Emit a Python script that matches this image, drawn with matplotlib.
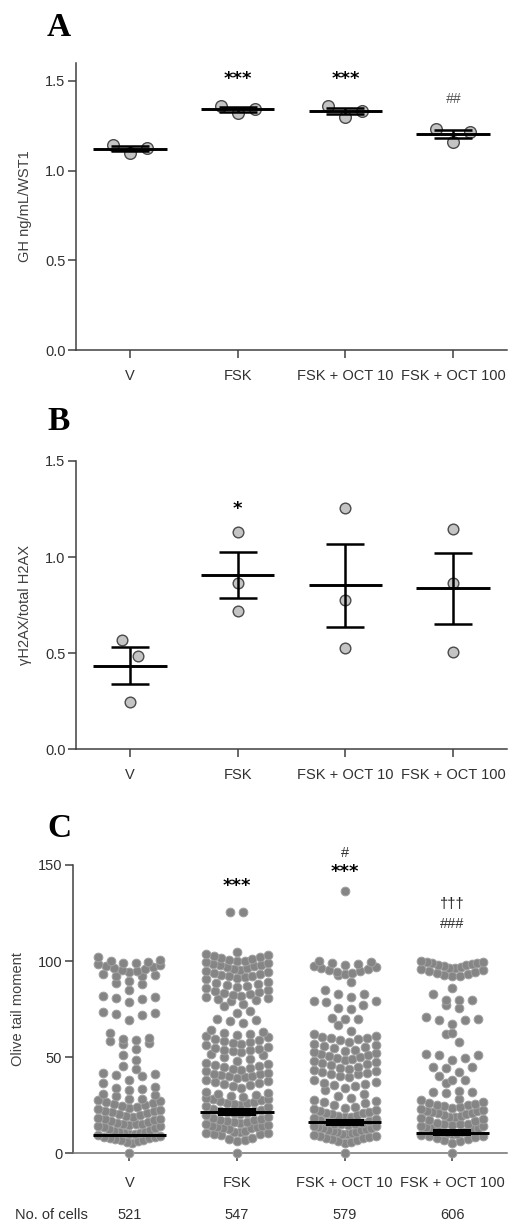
import numpy as np
import matplotlib
matplotlib.use("Agg")
import matplotlib.pyplot as plt

plt.rcParams['font.family'] = ['Liberation Sans', 'DejaVu Sans']

groups = ['V', 'FSK', 'FSK + OCT 10', 'FSK + OCT 100']

# A - GH secretion, one value per experiment
gh_v = [1.143, 1.097, 1.128]
gh_fsk = [1.361, 1.320, 1.342]
gh_oct10 = [1.361, 1.301, 1.333]
gh_oct100 = [1.231, 1.162, 1.218]
gh_marks = ['', '***', '***', '##']

# B - gammaH2AX / total H2AX
h2ax_v = [0.569, 0.487, 0.248]
h2ax_fsk = [1.129, 0.864, 0.721]
h2ax_oct10 = [1.254, 0.777, 0.526]
h2ax_oct100 = [1.146, 0.864, 0.505]
h2ax_marks = ['', '*', '', '']

# C - comet assay, olive tail moment per cell
tail_v = [0,
          5.5, 6, 6.5, 7, 7, 7.5, 8, 8, 8.5, 8.5, 9,
          9.5, 10, 10, 10.5, 10.5, 11, 11, 11.5, 12, 12.5, 13,
          13.5, 14, 14, 14.5, 15, 15, 15.5, 16, 16.5, 17,
          17.5, 18, 18, 18.5, 19, 19.5, 20, 20.5, 21,
          21.5, 22, 22, 22.5, 23, 23.5, 24, 24.5, 25,
          25.5, 26, 26.5, 27, 27.5, 28, 28.5,
          30, 30.5, 31, 33, 33.5, 34, 34.5,
          36.5, 38, 40, 40.5, 41.5, 42,
          44, 45.5, 48.5, 51, 54.5, 57, 57.5,
          58.5, 59, 59.5, 60, 62.5,
          69.5, 72, 72.5, 73, 73.5, 78.5, 80.5, 81, 81.5, 82,
          85, 88, 88.5, 89.5,
          92, 92.5, 93, 93.5, 94.5, 95, 95.5, 96,
          96.5, 97, 97.5, 98, 98.5, 99, 99, 99.5, 100, 100.5,
          102]
tail_fsk = [0,
            6.5, 7, 7.5, 8,
            9.5, 10, 10, 10.5, 10.5, 11, 11, 11.5,
            12.5, 13, 13, 13.5, 13.5, 14, 14, 14.5, 15,
            16, 16.5, 16.5, 17, 17.5, 17.5, 18, 18.5, 19,
            20, 20.5, 21, 21, 21.5, 22, 22, 22.5, 23,
            24, 24.5, 25, 25.5, 26, 26, 26.5, 27, 27.5,
            28, 28.5, 29, 29.5, 30, 30.5, 31, 31.5, 32,
            34, 35, 35.5, 36, 36.5, 37, 37.5, 38,
            39, 39.5, 40, 40, 40.5, 41, 41.5, 42,
            43, 43.5, 44, 44.5, 45, 45.5, 46, 46.5, 47,
            48, 49, 50, 51, 51.5,
            52.5, 53, 53.5, 54, 54.5, 55, 55.5,
            56.5, 57, 57.5, 58, 58.5, 59, 59.5,
            60.5, 61, 61.5, 62, 62.5, 63, 64,
            68, 69, 69.5, 70,
            73, 74, 76.5, 77.5,
            79.5, 80, 80.5, 81, 81.5, 82, 82.5,
            83, 83.5, 84, 84.5, 85, 86,
            86.5, 87, 87.5, 88, 88.5, 89,
            90.5, 91, 91.5, 92, 92.5, 93,
            93.5, 94, 94.5, 95, 95.5, 96, 96.5,
            97, 97.5, 98, 98, 98.5, 99, 99.5, 100,
            100, 100.5, 101, 101.5, 102, 102.5, 103, 103.5,
            104.5, 125.5, 125.5]
tail_oct10 = [0,
              5.5, 6, 6.5, 7, 7.5, 8, 8, 8.5, 9, 9, 9.5,
              10, 10, 10.5, 11, 11, 11.5, 12, 12, 12.5, 13, 13, 13.5,
              14, 14, 14.5, 15, 15, 15.5, 16, 16.5, 17, 17.5,
              18, 18.5, 19, 19, 19.5, 20, 20.5, 21, 21, 21.5,
              22, 22.5, 23, 23.5, 24, 25, 26, 26.5, 27, 27.5,
              29, 30, 31, 33, 34, 35, 35.5, 36, 36.5, 37, 38,
              39.5, 40, 41, 41.5, 42, 42.5, 43, 43.5, 44, 44.5, 45,
              46, 46.5, 47, 47.5, 48, 48.5, 49, 49.5,
              50, 50.5, 51, 51.5, 52, 52.5, 53, 54,
              55, 55.5, 56, 56.5, 57, 58, 59, 59.5,
              60, 60, 60.5, 61, 62, 63.5, 67,
              70, 70, 70.5, 75, 75.5, 77, 78.5, 79, 79, 81.5,
              83, 83, 85, 89,
              93, 93.5, 94, 94.5, 95, 95.5, 96, 96.5,
              97, 97.5, 98, 98.5, 99, 99.5, 100,
              136.5]
tail_oct100 = [0,
               5.5, 6.5, 7, 7.5, 8, 8.5, 9, 9,
               9.5, 10, 10, 10.5, 11, 11, 11.5, 12, 12.5,
               13, 13, 13.5, 14, 14, 14.5, 15, 15, 15.5, 16,
               17, 17.5, 18, 18.5, 19, 19, 19.5, 20, 20.5,
               21, 21, 21.5, 22, 22, 22.5, 23, 23.5, 24,
               24.5, 25, 25, 25.5, 26, 26.5, 27.5, 28,
               31.5, 32, 32, 32.5, 36.5, 38, 38, 40,
               42.5, 44.5, 45, 45, 48.5, 49.5, 51, 51, 51.5,
               58, 62, 62.5, 67.5, 69.5, 69.5, 70, 71,
               75.5, 77, 80, 80, 80, 83, 86,
               92, 92.5, 93, 93.5, 94, 94.5, 95, 95.5,
               96, 96.5, 96.5, 97, 97.5, 98, 98, 98.5,
               99, 99, 99.5, 99.5, 100]
tail_center = [9.3, 21.6, 16.4, 10.5]
tail_lo = [8.6, 19.5, 14.3, 9.1]
tail_hi = [10.0, 23.8, 17.7, 12.5]
tail_marks = [[], [(142, '***')], [(149, '***'), (157, '#')],
              [(120, '###'), (130, '\u2020\u2020\u2020')]]
n_cells = [521, 547, 579, 606]

AXIS_COLOR = '#404040'
TEXT_COLOR = '#303030'


def lane_offsets(vals, px_per_y, lane_px, bin_px, half_px):
    # rows of nearby values, lowest value in the middle, the rest outwards
    vals = np.asarray(vals, float)
    order = np.argsort(vals, kind='stable')
    offs = np.zeros(len(vals))
    bins, cur, start = [], [], 0.0
    for i in order:
        y = vals[i] * px_per_y
        if cur and y - start > bin_px:
            bins.append(cur)
            cur = []
        if not cur:
            start = y
        cur.append(i)
    if cur:
        bins.append(cur)
    for b in bins:
        n = len(b)
        if n % 2:
            k = (n - 1) // 2
            s = lane_px if k == 0 else min(lane_px, half_px / k)
            slots = [0.0]
            for j in range(1, k + 1):
                slots += [j * s, -j * s]
        else:
            k = n // 2
            s = min(lane_px, half_px / (k - 0.5))
            slots = []
            for j in range(1, k + 1):
                slots += [(j - 0.5) * s, -(j - 0.5) * s]
        for i, o in zip(b, slots):
            offs[i] = o
    return offs


def px_scale(ax):
    x0, x1 = ax.get_xlim()
    y0, y1 = ax.get_ylim()
    return ax.bbox.width / (x1 - x0), ax.bbox.height / (y1 - y0)


def style_axis(ax, xlim, ylim, yticks, labels_fmt, ylabel, label_x):
    ax.set_xlim(*xlim)
    ax.set_ylim(*ylim)
    for s in ('top', 'right'):
        ax.spines[s].set_visible(False)
    for s in ('left', 'bottom'):
        ax.spines[s].set_color(AXIS_COLOR)
        ax.spines[s].set_linewidth(1.1)
    ax.set_yticks(yticks)
    ax.set_yticklabels([labels_fmt.format(t) for t in yticks])
    ax.set_xticks(range(len(groups)))
    ax.set_xticklabels(groups)
    ax.tick_params(axis='both', direction='out', length=5.5, width=1.1,
                   color=AXIS_COLOR, labelsize=10.5, labelcolor=TEXT_COLOR)
    ax.tick_params(axis='x', pad=8)
    ax.tick_params(axis='y', pad=2)
    ax.set_ylabel(ylabel, fontsize=10.5, color='#404040')
    ax.yaxis.set_label_coords(label_x, 0.5)
    ax.patch.set_alpha(0)


def mark(ax, x, y, text, size, off, **kw):
    ax.annotate(text, xy=(x, y), xytext=(0, off), textcoords='offset points',
                ha='center', va='baseline', fontsize=size, annotation_clip=False, **kw)


def small_n_panel(ax, data, d_px, lane_px, bin_px):
    ppx, ppy = px_scale(ax)
    for i, vals in enumerate(data):
        offs = lane_offsets(vals, ppy, lane_px, bin_px, 40)
        ax.plot(i + offs / ppx, vals, 'o', ms=d_px * 0.72 - 0.6, mfc='#c4c4c4',
                mec='#4a4a4a', mew=1.0, zorder=3, clip_on=False)
        m = np.mean(vals)
        sem = np.std(vals, ddof=1) / np.sqrt(len(vals))
        ax.hlines(m, i - 0.34, i + 0.34, color='black', lw=2.1, zorder=4)
        ax.errorbar(i, m, yerr=sem, fmt='none', ecolor='black', elinewidth=1.8,
                    capsize=13.5, capthick=1.8, zorder=4)


fig = plt.figure(figsize=(5.2, 12.24), dpi=100)
W, H = 520.0, 1224.0

# panel A
axA = fig.add_axes([76 / W, 1 - 350 / H, 431 / W, 287 / H])
style_axis(axA, (-0.5, 3.5), (0, 1.6), [0.0, 0.5, 1.0, 1.5], '{:.1f}',
           'GH ng/mL/WST1', -0.102)
small_n_panel(axA, [gh_v, gh_fsk, gh_oct10, gh_oct100], 12.5, 17, 18)
for i, t in enumerate(gh_marks):
    if t == '***':
        mark(axA, i, 1.539, t, 13, -7.5, fontweight='bold', family='DejaVu Sans')
    elif t:
        mark(axA, i, 1.405, t, 10, -3.5, style='italic', color='#505050')

# panel B
axB = fig.add_axes([76 / W, 1 - 749.3 / H, 431 / W, 288.3 / H])
style_axis(axB, (-0.5, 3.5), (0, 1.5), [0.0, 0.5, 1.0, 1.5], '{:.1f}',
           '\u03b3H2AX/total H2AX', -0.102)
small_n_panel(axB, [h2ax_v, h2ax_fsk, h2ax_oct10, h2ax_oct100], 11.5, 16, 17)
for i, t in enumerate(h2ax_marks):
    if t:
        mark(axB, i, 1.28, t, 13, -7.5, fontweight='bold', family='DejaVu Sans')

# panel C
axC = fig.add_axes([72.7 / W, 1 - 1153.3 / H, 434.3 / W, 288.3 / H])
style_axis(axC, (-0.527, 3.51), (0, 150), [0, 50, 100, 150], '{:d}',
           'Olive tail moment', -0.11)
axC.spines['bottom'].set_color('#707070')
axC.tick_params(axis='x', pad=11)
ppx, ppy = px_scale(axC)
for i, vals in enumerate([tail_v, tail_fsk, tail_oct10, tail_oct100]):
    offs = lane_offsets(vals, ppy, 13, 8, 31)
    axC.plot(i + offs / ppx, vals, 'o', ms=6.3, mfc='#858585', mec='#a0a0a0',
             mew=0.7, zorder=3, clip_on=False)
    axC.bar(i, tail_hi[i] - tail_lo[i], bottom=tail_lo[i], width=38 / ppx,
            color='black', zorder=4)
    axC.hlines(tail_center[i], i - 0.34, i + 0.34, color='black', lw=2.1, zorder=4)
    for y, t in tail_marks[i]:
        if '*' in t:
            mark(axC, i, y, t, 13, -7.5, fontweight='bold', family='DejaVu Sans')
        elif '#' in t:
            mark(axC, i, y, t, 10.5, -3.7, color='#303030')
        else:
            mark(axC, i, y, t, 10.5, -3.0, color='#202020')

# number of cells under each group
fig.text(15 / W, 1 - 1215 / H, 'No. of cells', fontsize=10.5, color=TEXT_COLOR,
         ha='left', va='center')
for i, n in enumerate(n_cells):
    axC.text(i, -61.7 / 288.3, str(n), transform=axC.get_xaxis_transform(),
             fontsize=10.5, color=TEXT_COLOR, ha='center', va='center')

# panel letters
for letter, base in [('A', 36), ('B', 430), ('C', 837)]:
    fig.text(47 / W, 1 - base / H, letter, fontsize=24, fontweight='bold',
             family='Liberation Serif', ha='left', va='baseline')

fig.savefig('out.png', dpi=100)
